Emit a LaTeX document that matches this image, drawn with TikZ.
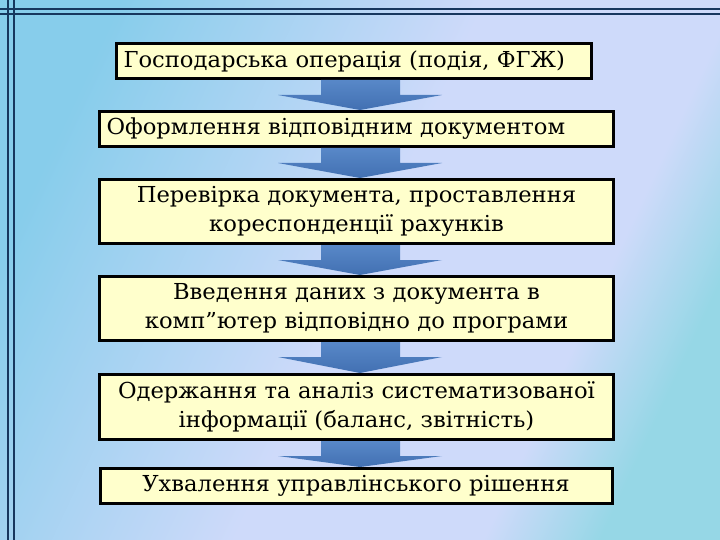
\documentclass[tikz,border=0pt]{standalone}
\usepackage{fontspec}
\setmainfont[FakeStretch=1.03]{DejaVu Serif}
\usetikzlibrary{calc}
\definecolor{boxfill}{RGB}{255,255,204}
\definecolor{framenavy}{RGB}{23,55,94}
\definecolor{bgleft}{RGB}{135,205,235}
\definecolor{bgmid}{RGB}{206,218,250}
\definecolor{bgright}{RGB}{150,215,230}
\definecolor{arrowtop}{RGB}{88,136,200}
\definecolor{arrowbottom}{RGB}{66,112,178}
\pgfdeclarehorizontalshading{slidebg}{100bp}{color(0bp)=(bgleft); color(25bp)=(bgleft); color(50bp)=(bgmid); color(67bp)=(bgmid); color(75bp)=(bgright); color(100bp)=(bgright)}
\tikzset{
  stepbox/.style={draw, line width=3pt, fill=boxfill, inner xsep=7pt, inner ysep=0pt, font=\fontsize{22}{28.5}\selectfont, align=center},
  flowarrow/.style={top color=arrowtop, bottom color=arrowbottom},
  frameline/.style={draw=framenavy, line width=2.2pt}
}
\begin{document}
\begin{tikzpicture}[x=1pt, y=-1pt]
\useasboundingbox (0,0) rectangle (720,540);
\shade[shading=slidebg, shading angle=-25] (0,0) rectangle (720,540);
\draw[frameline] (8,0) -- (8,540);
\draw[frameline] (14,0) -- (14,540);
\draw[frameline] (0,9) -- (720,9);
\draw[frameline] (0,14) -- (720,14);

\node[stepbox, align=left, text width=461pt, minimum height=35pt] (b1) at (354,61) {Господарська операція (подія, ФГЖ)};
\node[stepbox, align=left, text width=500pt, minimum height=35pt] (b2) at (356.5,129) {Оформлення відповідним документом};
\node[stepbox, text width=500pt, minimum height=64pt] (b3) at (356.5,211.5) {Перевірка документа, проставлення\\ кореспонденції рахунків};
\node[stepbox, text width=500pt, minimum height=64pt] (b4) at (356.5,308.5) {Введення даних з документа в\\ комп”ютер відповідно до програми};
\node[stepbox, text width=500pt, minimum height=65pt] (b5) at (356.5,407) {Одержання та аналіз систематизованої\\ інформації (баланс, звітність)};
\node[stepbox, text width=498pt, minimum height=35pt] (b6) at (356,486) {Ухвалення управлінського рішення};

\coordinate (ax) at (360,0);
\foreach \a/\b in {b1/b2,b2/b3,b3/b4,b4/b5,b5/b6}
  \shade[flowarrow] ($(ax |- \a.south)+(-39,0)$) -- ($(ax |- \a.south)+(40,0)$) -- ($(ax |- \a.south)+(40,15)$) -- ($(ax |- \a.south)+(82,15)$) -- (ax |- \b.north) -- ($(ax |- \a.south)+(-82,15)$) -- ($(ax |- \a.south)+(-39,15)$) -- cycle;

\end{tikzpicture}
\end{document}
